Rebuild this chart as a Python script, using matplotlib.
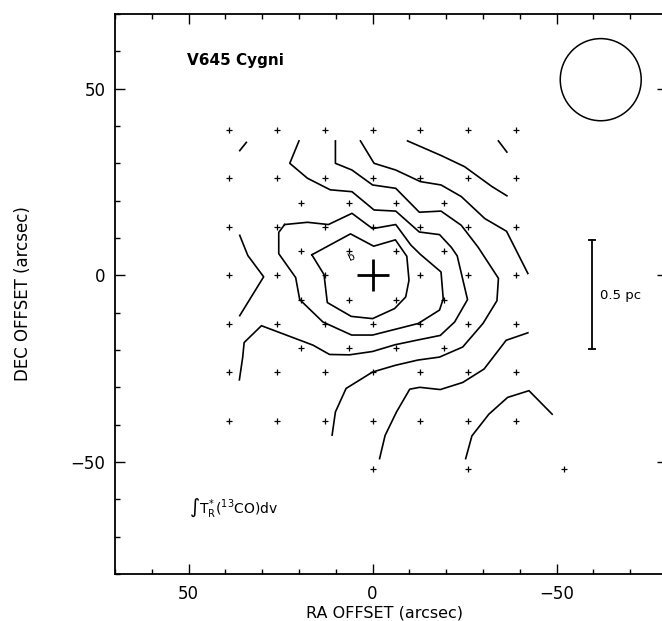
import numpy as np
import matplotlib.pyplot as plt
from matplotlib.patches import Circle
from matplotlib.ticker import MultipleLocator

plt.rcParams['font.family'] = ['DejaVu Sans']

# observed positions (arcsec offsets)
full_steps = [39, 26, 13, 0, -13, -26, -39]
half_steps = [19.5, 6.5, -6.5, -19.5]
extra_ra = [0, -26, -52]
extra_dec = -52

# contour polylines, (ra, dec) pairs
cont1 = [(16.5, 5.5), (6.0, 11.1), (-0.3, 7.8), (-6.2, 9.5), (-9.3, 5.1), (-9.9, -1.3),
         (-9.0, -5.8), (-6.0, -8.9), (0.0, -11.6), (5.8, -11.0), (12.3, -7.3), (13.2, 0.2),
         (16.5, 5.5)]
cont2 = [(23.9, 13.6), (17.7, 14.2), (12.0, 13.6), (5.6, 16.6), (0.0, 12.5), (-6.3, 13.6),
         (-10.4, 8.1), (-13.0, 5.6), (-18.6, 0.9), (-19.2, -6.3), (-18.2, -9.3), (-12.4, -12.9),
         (-6.0, -14.5), (0.0, -16.0), (5.7, -16.0), (13.5, -12.5), (19.8, -6.5), (20.9, -0.6),
         (25.5, 5.8), (25.5, 11.5), (23.9, 13.6)]
cont3 = [(20.0, 36.0), (22.5, 30.0), (17.7, 26.0), (11.5, 22.9), (5.6, 22.4), (-0.4, 17.5),
         (-6.3, 17.2), (-12.7, 11.6), (-18.2, 10.9), (-21.4, 7.5), (-23.0, 5.2), (-25.8, -6.5),
         (-22.3, -12.5), (-18.4, -16.1), (-11.9, -17.4), (-6.1, -18.6), (0.0, -20.4),
         (6.3, -21.3), (11.7, -21.2), (16.2, -18.7), (30.2, -13.5), (34.9, -18.0),
         (35.3, -22.0), (36.2, -28.0)]
cont4 = [(10.1, 36.0), (10.1, 30.0), (5.6, 28.2), (0.0, 24.2), (-6.3, 23.3), (-12.7, 16.9),
         (-18.6, 17.2), (-24.1, 13.4), (-28.7, 7.5), (-34.2, -0.8), (-33.8, -6.8), (-30.0, -12.9),
         (-24.5, -19.2), (-18.2, -21.9), (-12.3, -22.7), (-6.2, -24.1), (0.0, -25.9),
         (7.2, -30.3), (10.1, -36.6), (11.0, -42.8)]
cont5a = [(3.3, 36.0), (-0.4, 30.0), (-6.3, 28.2), (-13.0, 25.1), (-18.6, 24.2), (-24.1, 21.1),
          (-30.5, 15.2), (-36.4, 11.8), (-42.2, 0.5)]
cont5b = [(-1.9, -49.1), (-3.4, -42.9), (-6.5, -36.6), (-10.1, -30.5), (-12.8, -30.0),
          (-18.4, -30.6), (-24.5, -28.7), (-30.3, -25.1), (-36.3, -17.4), (-42.2, -15.4)]
cont6 = [(-25.3, -49.1), (-27.0, -43.0), (-31.6, -37.2), (-36.7, -32.7), (-42.5, -30.9),
         (-48.8, -37.2)]
cont7 = [(-9.5, 36.0), (-18.6, 32.1), (-25.0, 29.1), (-32.4, 23.8), (-36.5, 21.3)]
cont8 = [(-34.2, 36.0), (-36.5, 33.0)]
cont9 = [(36.1, 10.7), (33.9, 5.3), (29.6, -0.4), (36.1, -10.8)]
cont10 = [(36.1, 33.4), (34.3, 35.6)]
contours = [cont1, cont2, cont3, cont4, cont5a, cont5b, cont6, cont7, cont8, cont9, cont10]

star_pos = (0, 0)
beam_center = (-62, 52.4)
beam_radius = 11
bar_ra = -59.5
bar_dec = (9.4, -19.8)

fig = plt.figure(figsize=(6.62, 6.21), dpi=100)
ax = fig.add_axes([0.1737, 0.0757, 0.8338, 0.9018])

# sampled points
gx, gy = np.meshgrid(full_steps, full_steps)
ax.plot(gx.ravel(), gy.ravel(), '+', color='black', ms=5, mew=0.9)
hx, hy = np.meshgrid(half_steps, half_steps)
ax.plot(hx.ravel(), hy.ravel(), '+', color='black', ms=5, mew=0.9)
ax.plot(extra_ra, [extra_dec] * len(extra_ra), '+', color='black', ms=5, mew=0.9)

for c in contours:
    c = np.array(c)
    ax.plot(c[:, 0], c[:, 1], color='black', lw=1.2)

ax.plot(*star_pos, '+', color='black', ms=23, mew=2.0)
ax.text(5.6, 5.0, 'b', fontsize=7.5, rotation=25, ha='center', va='center')

ax.add_patch(Circle(beam_center, beam_radius, fill=False, color='black', lw=1.1))

ax.plot([bar_ra, bar_ra], bar_dec, color='black', lw=1.3)
ax.plot([bar_ra, bar_ra], bar_dec, '_', color='black', ms=6, mew=1.3)
ax.text(-61.7, -5.3, '0.5 pc', fontsize=9.5, ha='left', va='center')

ax.text(50.3, 57.5, 'V645 Cygni', fontsize=11, fontweight='bold', ha='left', va='center')
ax.text(49.8, -62.3, r'$\int\mathrm{T}_{\rm R}^{\!*}(^{13}{\rm CO}){\rm dv}$', fontsize=10,
        ha='left', va='center')

ax.set_xlim(70, -80)
ax.set_ylim(-80, 70)
ax.xaxis.set_major_locator(MultipleLocator(50))
ax.xaxis.set_minor_locator(MultipleLocator(10))
ax.yaxis.set_major_locator(MultipleLocator(50))
ax.yaxis.set_minor_locator(MultipleLocator(10))
ax.tick_params(which='both', direction='in', top=True, right=True, width=1, labelsize=12)
ax.tick_params(which='major', length=7)
ax.tick_params(which='minor', length=3.6)
ax.tick_params(axis='x', pad=8)
ax.tick_params(axis='y', pad=7)
for s in ax.spines.values():
    s.set_linewidth(1.3)

ax.set_xlabel('RA OFFSET (arcsec)', fontsize=11.5)
ax.set_ylabel('DEC OFFSET (arcsec)', fontsize=12)
ax.xaxis.set_label_coords(0.489, -0.056)
ax.yaxis.set_label_coords(-0.150, 0.5)

fig.savefig('out.png', dpi=100)
